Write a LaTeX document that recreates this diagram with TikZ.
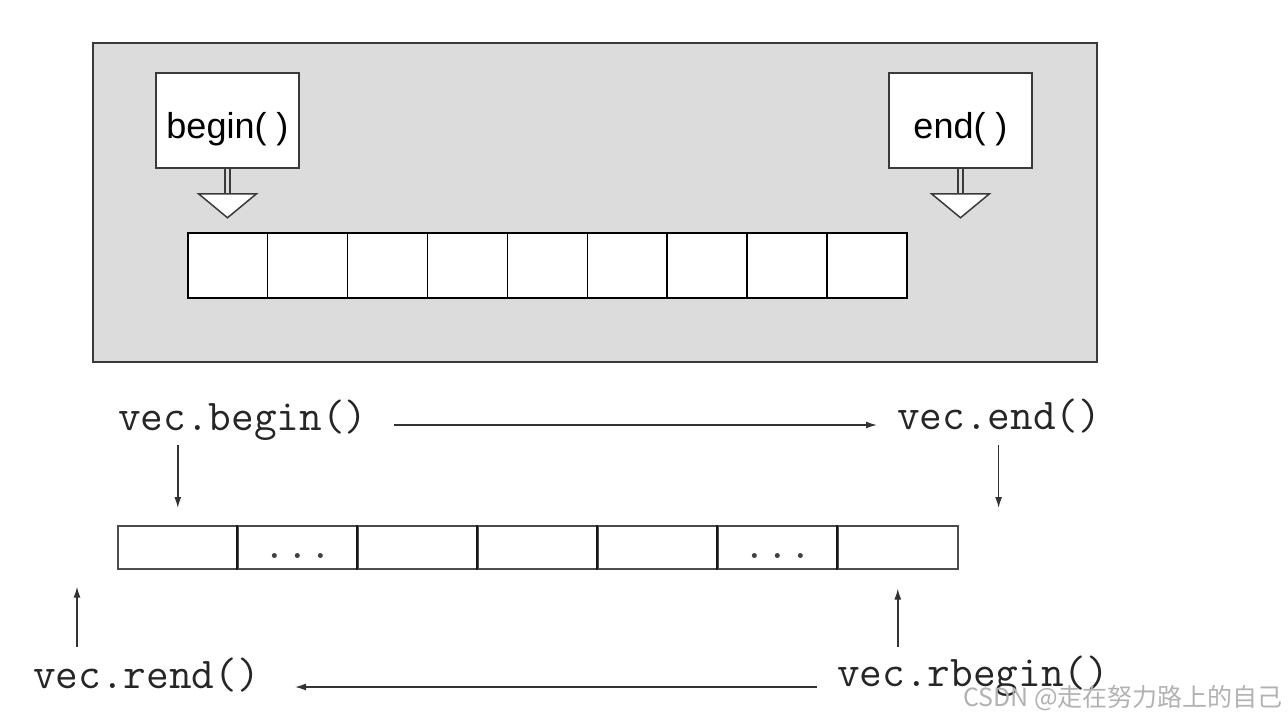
\documentclass[tikz,border=0pt]{standalone}
\usepackage{fontspec}
\setmainfont{Liberation Sans}
\newfontfamily\cjkfont{Noto Sans CJK SC}
\usetikzlibrary{arrows.meta}
\definecolor{panelgray}{HTML}{DCDCDC}
\definecolor{edge}{HTML}{3A3A3A}
\tikzset{
  panel/.style={draw=edge, line width=1.5pt, fill=panelgray, anchor=north west, inner sep=0pt},
  labelbox/.style={draw=edge, line width=1.5pt, fill=white, minimum width=143pt, minimum height=95pt, inner sep=0pt, text height=35pt, text depth=0pt, font=\fontsize{36}{40}\selectfont},
  cell/.style={draw=black, line width=1.5pt, fill=white, anchor=north west, minimum width=79.9pt, minimum height=65pt, inner sep=0pt},
  bcell/.style={draw=black!70, line width=1.6pt, anchor=north west, minimum width=120pt, minimum height=43pt, inner sep=0pt},
  divider/.style={draw=black!90, line width=2.8pt},
  mono/.style={font=\ttfamily\fontsize{44}{46}\selectfont, text=black!85, inner sep=0pt},
  dots/.style={font=\ttfamily\fontsize{44}{46}\selectfont, text=black!75, inner sep=0pt, anchor=base},
  arr/.style={draw=black!80, line width=1.4pt, -{Latex[length=11pt,width=7pt]}},
  hollow/.style={draw=edge, line width=1.5pt, fill=white, line join=miter},
  stem/.style={draw=edge, line width=1.5pt},
  wmark/.style={font=\cjkfont\fontsize{25}{28}\selectfont, text=black!30, inner sep=0pt, anchor=base east}
}
\begin{document}
\begin{tikzpicture}[x=1pt,y=-1pt]
\useasboundingbox (0,0) rectangle (1288,720);
% top panel
\node[panel, minimum width=1004pt, minimum height=319pt] (panel) at (92,42) {};
\node[labelbox] (bbox) at (227.5,120.5) {begin( )};
\node[labelbox] (ebox) at (960.5,120.5) {end( )};
% hollow arrows
\draw[stem] ([xshift=-2.5pt]bbox.south) -- ++(0,25);
\draw[stem] ([xshift=2.5pt]bbox.south) -- ++(0,25);
\filldraw[hollow] ([xshift=-29pt,yshift=-25pt]bbox.south) -- ([xshift=29pt,yshift=-25pt]bbox.south) -- ([yshift=-49pt]bbox.south) -- cycle;
\draw[stem] ([xshift=-2.5pt]ebox.south) -- ++(0,25);
\draw[stem] ([xshift=2.5pt]ebox.south) -- ++(0,25);
\filldraw[hollow] ([xshift=-29pt,yshift=-25pt]ebox.south) -- ([xshift=29pt,yshift=-25pt]ebox.south) -- ([yshift=-49pt]ebox.south) -- cycle;
% top cells
\foreach \i in {0,...,8} {
  \node[cell] (c\i) at ({187+\i*79.9},232) {};
}
% bottom cells
\foreach \i in {0,...,6} {
  \node[bcell] (d\i) at ({117+\i*120},525) {};
}
\foreach \i in {1,...,6} {
  \draw[divider] (d\i.north west) -- (d\i.south west);
}
\node[dots] (dots1) at (d1.south |- 0,558) {...};
\node[dots] (dots2) at (d5.south |- 0,558) {...};
% labels
\node[mono, anchor=base west] (vb) at (118,430) {vec.begin()};
\node[mono, anchor=base west] (ve) at (897,429) {vec.end()};
\node[mono, anchor=base west] (vr) at (33,688) {vec.rend()};
\node[mono, anchor=base west] (vrb) at (837,686) {vec.rbegin()};
\coordinate (pastend) at ([xshift=40pt]d6.north east);
\coordinate (prebegin) at ([xshift=-40pt]d0.south west);
% arrows
\draw[arr] ([xshift=26pt,yshift=5pt]vb.base east) -- ([xshift=-20pt,yshift=4pt]ve.base west);
\draw[arr] (vb.base -| d0.north) ++(0,15) -- ([yshift=17pt]d0.north);
\draw[arr] (ve.base -| pastend) ++(0,16) -- ([yshift=17pt]pastend);
\draw[arr] (vr.base -| prebegin) ++(0,-41) -- ([yshift=-17pt]prebegin);
\draw[arr] (vrb.base -| d6.south) ++(0,-39) -- ([yshift=-19pt]d6.south);
\draw[arr] ([xshift=-20pt,yshift=-1pt]vrb.base west) -- ([xshift=35pt,yshift=1pt]vr.base east);
% watermark
\node[wmark] (wm) at (1283,706) {CSDN @走在努力路上的自己};
\end{tikzpicture}
\end{document}
